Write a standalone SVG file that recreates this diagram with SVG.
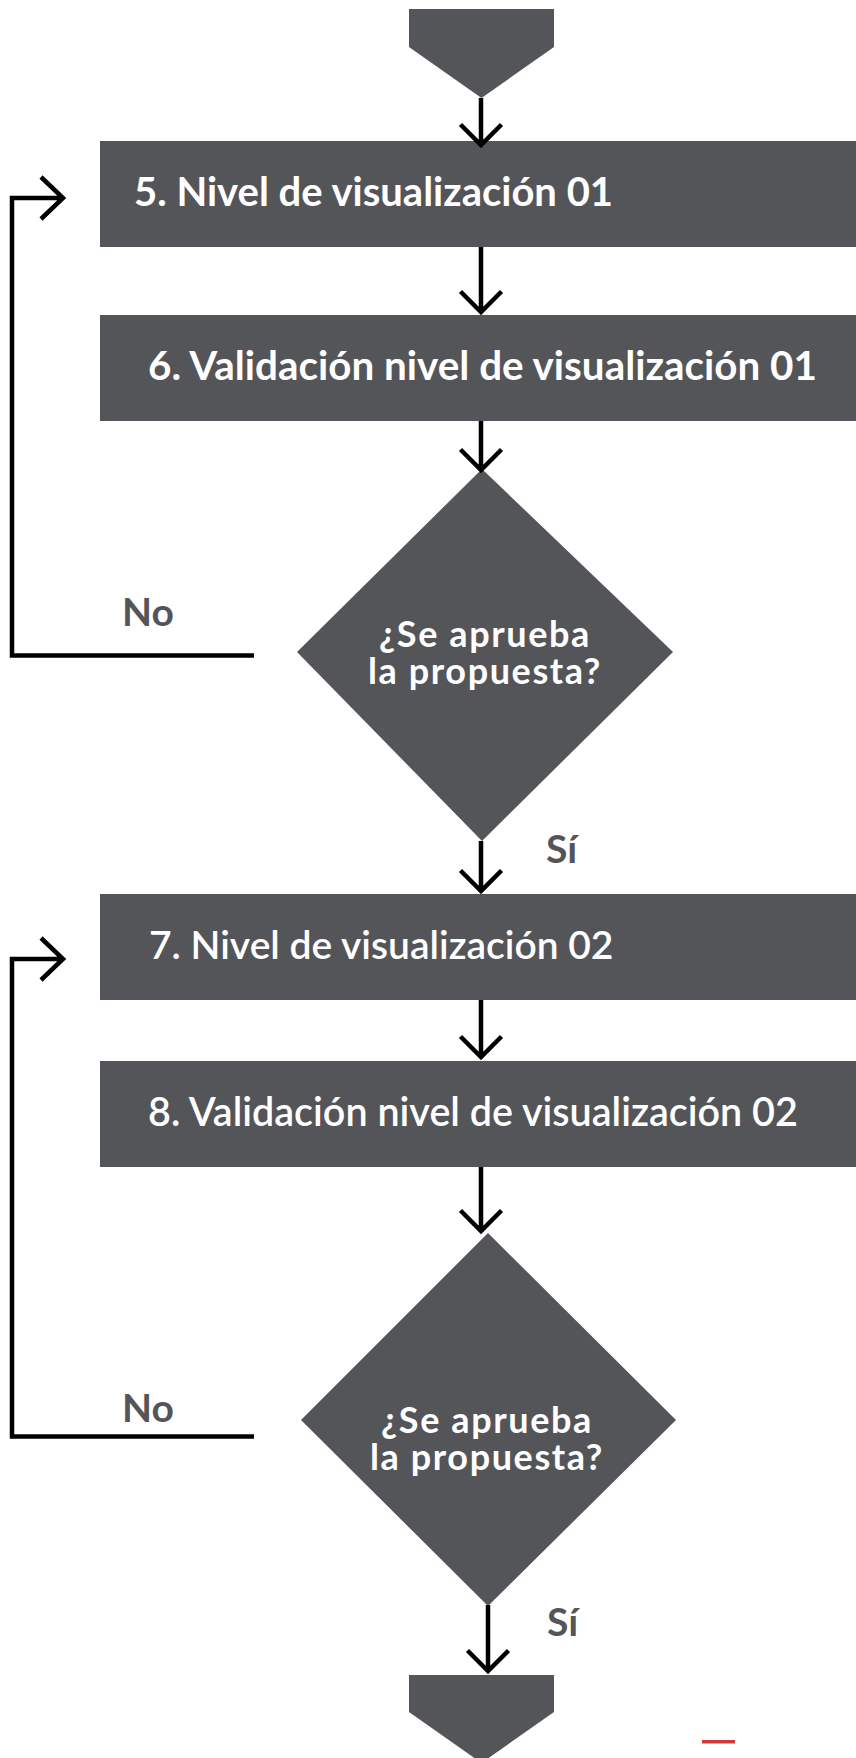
<svg xmlns="http://www.w3.org/2000/svg" width="856" height="1758" viewBox="0 0 856 1758">
<style>
.sh{fill:#545559}
.bt{font-family:Lato,"Noto Sans",sans-serif;font-weight:700;font-size:40px;fill:#ffffff}
.bt2{font-family:Lato,"Noto Sans",sans-serif;font-weight:600;font-size:39.5px;fill:#ffffff}
.dt{font-family:Lato,"Noto Sans",sans-serif;font-weight:700;font-size:36px;fill:#ffffff;text-anchor:middle;letter-spacing:1.6px}
.lb{font-family:Lato,"Noto Sans",sans-serif;font-weight:700;font-size:39px;fill:#545559}
.ln{fill:none;stroke:#000000;stroke-width:4.5;stroke-linejoin:miter;stroke-linecap:butt}
</style>
<rect width="856" height="1758" fill="#ffffff"/>
<g id="start"><polygon class="sh" points="409,9 554,9 554,47 481.5,98 409,47"/></g>
<g id="n5"><rect class="sh" x="100" y="141" width="756" height="106"/><text class="bt" x="134" y="206">5. Nivel de visualización 01</text></g>
<g id="n6"><rect class="sh" x="100" y="315" width="756" height="106"/><text class="bt" x="148" y="380" style="font-size:40.4px">6. Validación nivel de visualización 01</text></g>
<g id="d1"><polygon class="sh" points="482,469 673,652 482,841 297,652"/><text class="dt"><tspan x="485" y="647">¿Se aprueba</tspan><tspan x="485" y="684">la propuesta?</tspan></text></g>
<g id="n7"><rect class="sh" x="100" y="894" width="756" height="106"/><text class="bt2" x="149" y="959" style="font-size:39px">7. Nivel de visualización 02</text></g>
<g id="n8"><rect class="sh" x="100" y="1061" width="756" height="106"/><text class="bt2" x="148" y="1126">8. Validación nivel de visualización 02</text></g>
<g id="d2"><polygon class="sh" points="488,1233 676,1420 488,1606 301,1420"/><text class="dt"><tspan x="487" y="1433">¿Se aprueba</tspan><tspan x="487" y="1470">la propuesta?</tspan></text></g>
<g id="end"><polygon class="sh" points="409,1675 554,1675 554,1712 481.5,1763 409,1712"/></g>
<g id="labels">
<text class="lb" x="122" y="626">No</text>
<text class="lb" x="546" y="863">Sí</text>
<text class="lb" x="122" y="1422">No</text>
<text class="lb" x="547" y="1636">Sí</text>
</g>
<g id="connectors">
<path class="ln" d="M481,98 V145 M460.5,124.5 L481,145 L501.5,124.5"/>
<path class="ln" d="M481,247 V312 M460.5,291.5 L481,312 L501.5,291.5"/>
<path class="ln" d="M481,421 V470 M460.5,449.5 L481,470 L501.5,449.5"/>
<path class="ln" d="M481,841 V891 M460.5,870.5 L481,891 L501.5,870.5"/>
<path class="ln" d="M481,1000 V1057 M460.5,1036.5 L481,1057 L501.5,1036.5"/>
<path class="ln" d="M481,1167 V1231 M460.5,1210.5 L481,1231 L501.5,1210.5"/>
<path class="ln" d="M488,1605 V1671 M467.5,1650.5 L488,1671 L508.5,1650.5"/>
<path class="ln" d="M254,655.5 H12 V198 H63 M41,177 L63,198 L41,219"/>
<path class="ln" d="M254,1436.5 H12 V959 H63 M41,938 L63,959 L41,980"/>
</g>
<rect x="702" y="1740" width="33" height="3.5" fill="#d0393a"/>
</svg>
